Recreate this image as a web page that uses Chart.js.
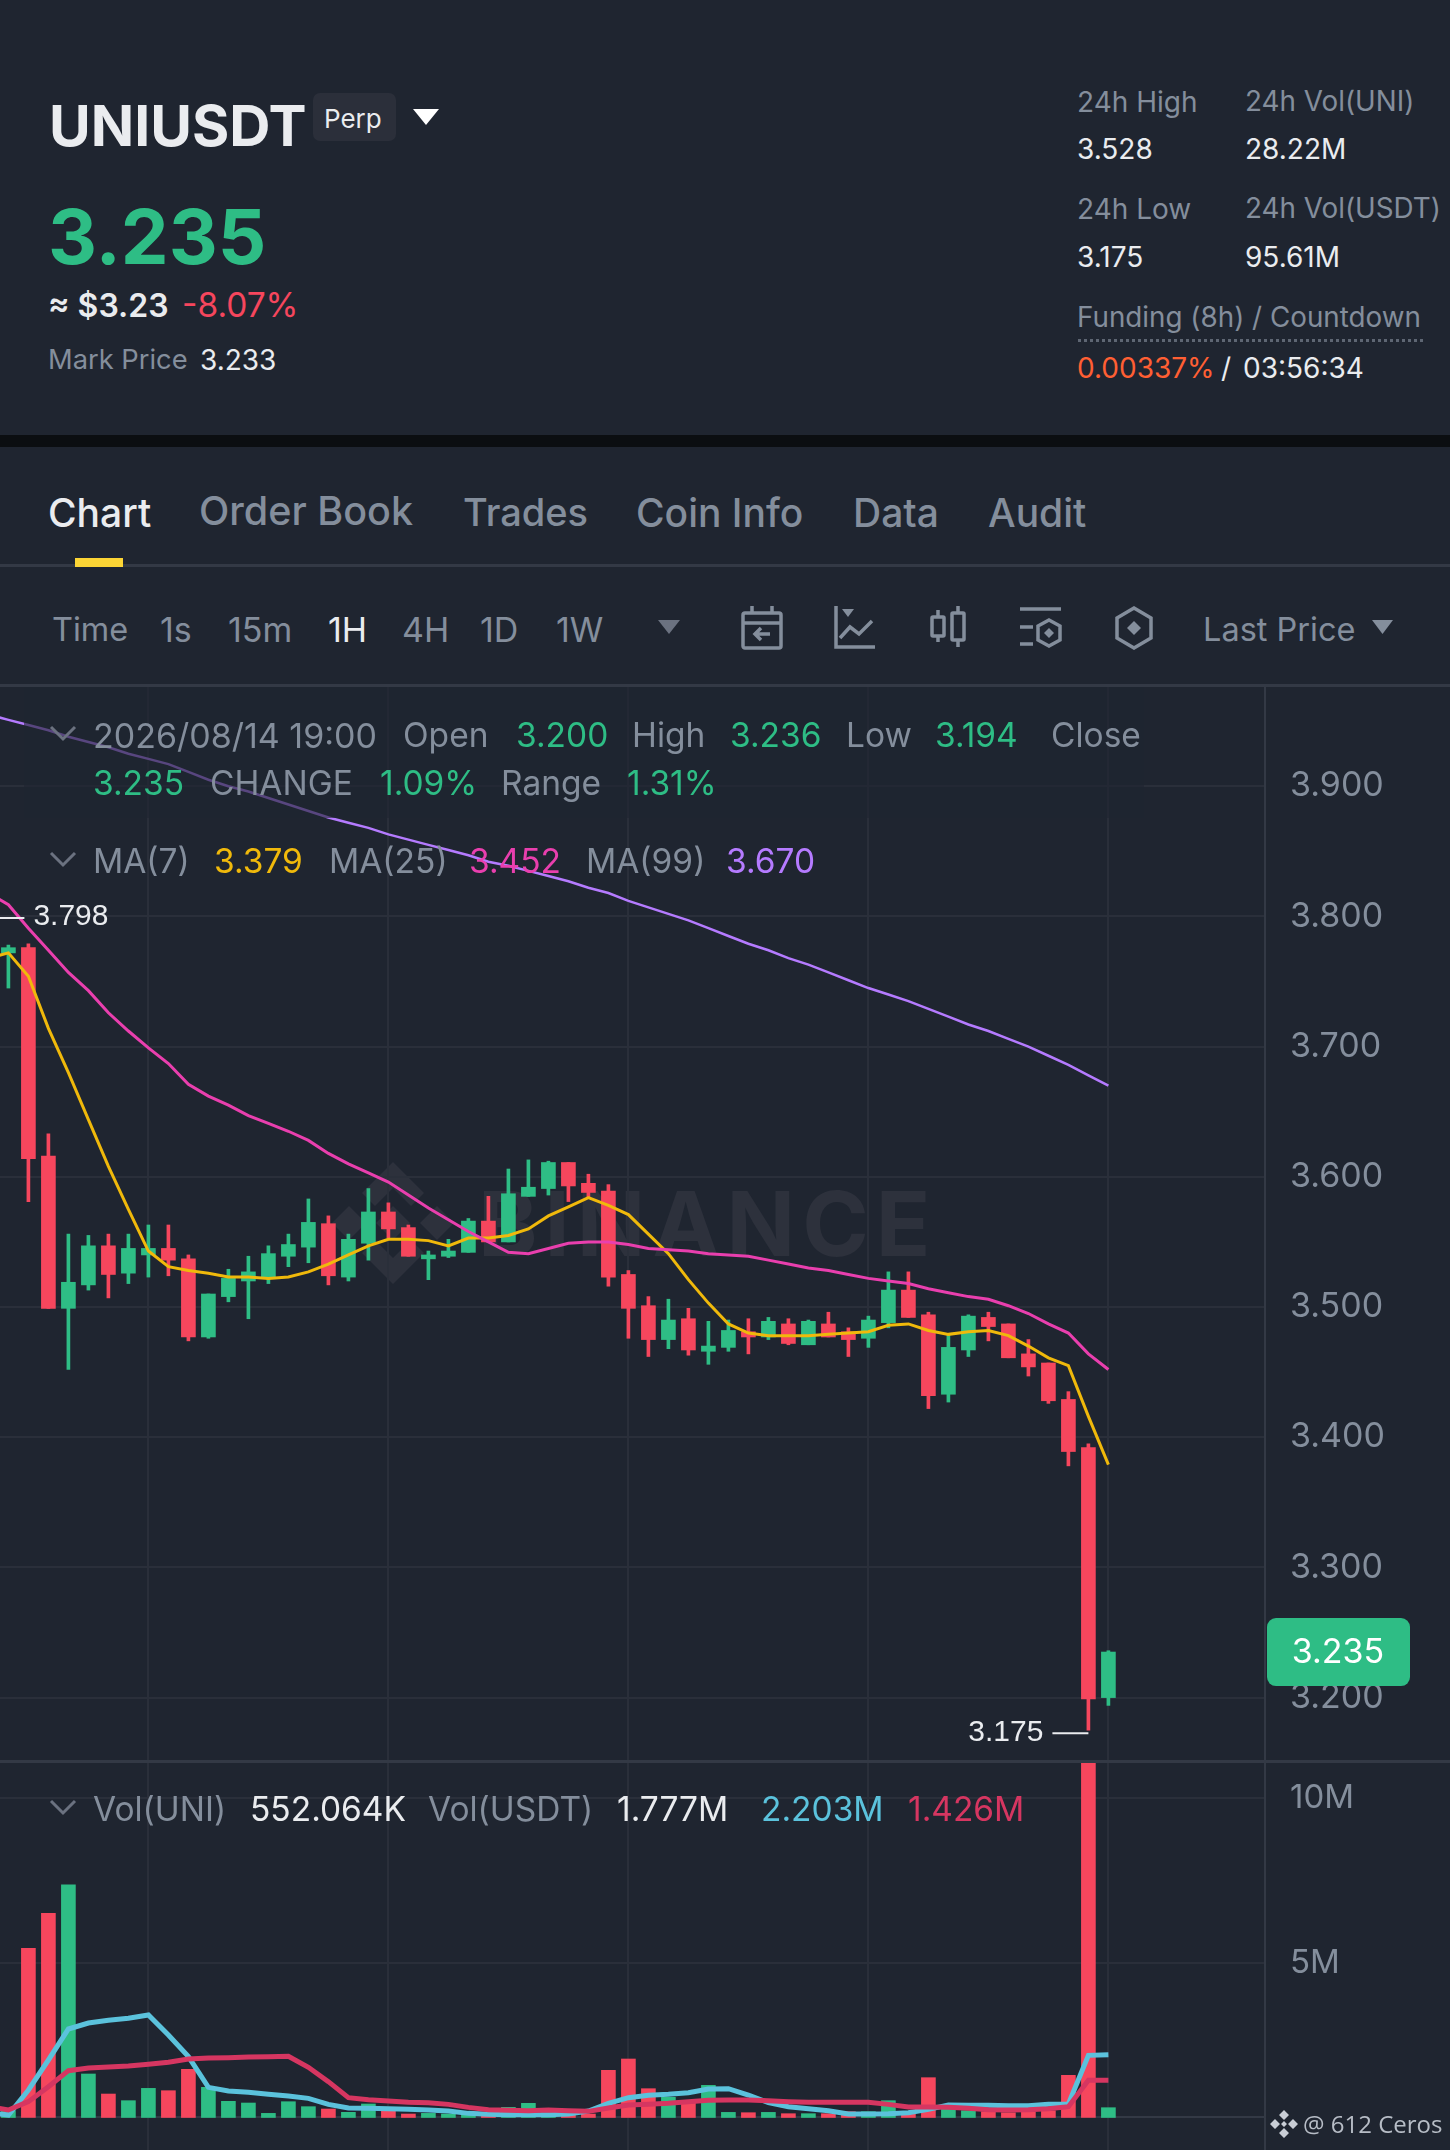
<!DOCTYPE html>
<html>
<head>
<meta charset="utf-8">
<title>UNIUSDT Perp</title>
<script src="https://cdn.jsdelivr.net/npm/chart.js@4/dist/chart.umd.min.js"></script>
<style>
html, body { margin: 0; padding: 0; background: #1f2530; }
#page { position: relative; width: 1450px; height: 2150px; overflow: hidden; background: #1f2530; font-family: Inter, sans-serif; }
#page > * { position: absolute; }
.t { white-space: nowrap; transform: translateY(calc(-50% + 1px)); line-height: 1; }
canvas { left: 0; }
</style>
</head>
<body>
<div id="page">
  <!-- watermark sits under the chart canvas -->
  <svg style="left:332px;top:1162px" width="122" height="122" viewBox="0 0 122 122" fill="#2d313c">
    <path d="M61 0 L92 31 L79 44 L61 26 L43 44 L30 31 Z"/>
    <path d="M61 122 L92 91 L79 78 L61 96 L43 78 L30 91 Z"/>
    <path d="M17 44 L34 61 L17 78 L0 61 Z"/>
    <path d="M105 44 L122 61 L105 78 L88 61 Z"/>
    <path d="M61 44 L78 61 L61 78 L44 61 Z"/>
  </svg>
  <div class="t" style="left:478px;top:1223px;font-size:90px;font-weight:700;color:#2d313c;letter-spacing:7px">BINANCE</div>

  <canvas id="priceChart" style="top:686px" width="1450" height="1075"></canvas>
  <canvas id="volumeChart" style="top:1762px" width="1450" height="388"></canvas>

  <!-- translucent box behind the OHLC rows, it dims the grid and MA(99) -->
  <div style="left:24px;top:686px;width:1120px;height:132px;background:rgba(31,37,48,.62)"></div>

  <div style="left:0;top:435px;width:1450px;height:12px;background:#0b0e11"></div>
  <div style="left:0;top:564px;width:1450px;height:3px;background:#333945"></div>
  <div style="left:0;top:684px;width:1450px;height:3px;background:#333945"></div>
  <div style="left:0;top:1760px;width:1450px;height:3px;background:#333945"></div>
  <div style="left:75px;top:558px;width:48px;height:9px;background:#fcd535"></div>
  <div style="left:313px;top:93px;width:83px;height:48px;background:#2b2f3a;border-radius:7px"></div>
  <div style="left:1078px;top:339px;width:345px;border-top:3px dotted #5e6673"></div>

  <svg style="left:741px;top:606px" width="42" height="44" viewBox="0 0 42 44" fill="none" stroke="#848e9c" stroke-width="3.5">
    <rect x="2" y="7" width="38" height="35" rx="2"/><path d="M2 17 H40 M11 0 V7 M31 0 V7 M29 28 H14 M20 22 L14 28 L20 34"/>
  </svg>
  <svg style="left:834px;top:606px" width="42" height="44" viewBox="0 0 42 44" fill="none" stroke="#848e9c" stroke-width="3.5">
    <path d="M2 0 V41 H41 M6 32 L16 21 L25 28 L38 15"/><path d="M8 3 H20 L14 11 Z" fill="#848e9c" stroke="none"/>
  </svg>
  <svg style="left:930px;top:606px" width="36" height="44" viewBox="0 0 36 44" fill="none" stroke="#848e9c" stroke-width="3.5">
    <rect x="2" y="11" width="12" height="19" rx="1"/><rect x="22" y="7" width="12" height="27" rx="1"/><path d="M8 4 V11 M8 30 V36 M28 0 V7 M28 34 V41"/>
  </svg>
  <svg style="left:1020px;top:606px" width="42" height="44" viewBox="0 0 42 44" fill="none" stroke="#848e9c" stroke-width="3.5">
    <path d="M0 3 H41 M0 21 H13 M0 38 H13 M29 14 L40 20 V34 L29 40 L18 34 V20 Z"/><path d="M29 22 L34 27 L29 32 L24 27 Z" fill="#848e9c" stroke="none"/>
  </svg>
  <svg style="left:1115px;top:606px" width="38" height="44" viewBox="0 0 38 44" fill="none" stroke="#848e9c" stroke-width="3.5">
    <path d="M19 2 L36 12 V32 L19 42 L2 32 V12 Z"/><path d="M19 15 L26 22 L19 29 L12 22 Z" fill="#848e9c" stroke="none"/>
  </svg>
  <svg style="left:1270px;top:2110px" width="28" height="28" viewBox="0 0 28 28" fill="#c9ced6">
    <path d="M14 0 L19 5 L14 10 L9 5 Z M14 18 L19 23 L14 28 L9 23 Z M5 9 L10 14 L5 19 L0 14 Z M23 9 L28 14 L23 19 L18 14 Z M14 11 L17 14 L14 17 L11 14 Z"/>
  </svg>
</div>

<script>
// candles
const opens  = [3.772,3.776,3.616,3.499,3.517,3.547,3.526,3.540,3.545,3.537,3.477,3.508,3.520,3.523,3.539,3.546,3.564,3.523,3.549,3.573,3.561,3.537,3.539,3.542,3.566,3.550,3.585,3.591,3.611,3.595,3.589,3.525,3.501,3.475,3.491,3.466,3.469,3.481,3.477,3.487,3.471,3.487,3.481,3.476,3.488,3.513,3.494,3.433,3.467,3.492,3.487,3.464,3.457,3.429,3.392,3.200];
const closes = [3.776,3.614,3.499,3.519,3.547,3.525,3.545,3.545,3.536,3.477,3.510,3.522,3.527,3.541,3.548,3.565,3.524,3.552,3.573,3.560,3.539,3.540,3.543,3.566,3.550,3.587,3.592,3.611,3.593,3.588,3.523,3.499,3.475,3.490,3.467,3.470,3.482,3.477,3.489,3.472,3.489,3.477,3.475,3.490,3.513,3.492,3.432,3.469,3.493,3.485,3.461,3.454,3.428,3.389,3.199,3.235];
const highs  = [3.778,3.779,3.633,3.556,3.555,3.556,3.556,3.563,3.563,3.540,3.510,3.529,3.539,3.547,3.556,3.583,3.570,3.556,3.591,3.580,3.563,3.543,3.552,3.568,3.585,3.606,3.613,3.612,3.611,3.602,3.594,3.528,3.508,3.506,3.499,3.489,3.490,3.491,3.492,3.491,3.490,3.496,3.484,3.493,3.527,3.527,3.496,3.479,3.494,3.496,3.487,3.475,3.457,3.435,3.395,3.236];
const lows   = [3.745,3.581,3.499,3.452,3.513,3.507,3.518,3.523,3.524,3.474,3.476,3.504,3.491,3.518,3.531,3.534,3.517,3.520,3.536,3.553,3.539,3.521,3.538,3.542,3.550,3.550,3.585,3.586,3.581,3.584,3.516,3.476,3.462,3.468,3.463,3.456,3.466,3.464,3.475,3.471,3.471,3.477,3.462,3.469,3.484,3.492,3.422,3.427,3.462,3.474,3.461,3.447,3.426,3.378,3.175,3.194];

// moving averages start one candle left of the picture, index -1
const ma7  = [3.768,3.772,3.754,3.714,3.680,3.644,3.608,3.575,3.543,3.531,3.528,3.526,3.523,3.523,3.522,3.523,3.527,3.533,3.540,3.547,3.552,3.552,3.551,3.547,3.553,3.553,3.555,3.560,3.570,3.577,3.584,3.578,3.571,3.556,3.541,3.521,3.503,3.487,3.480,3.478,3.478,3.478,3.479,3.480,3.481,3.486,3.487,3.482,3.479,3.481,3.482,3.478,3.470,3.461,3.455,3.416,3.379];
const ma25 = [3.818,3.809,3.791,3.774,3.757,3.743,3.726,3.712,3.699,3.687,3.671,3.662,3.655,3.647,3.641,3.635,3.628,3.618,3.610,3.603,3.596,3.586,3.576,3.567,3.558,3.550,3.542,3.541,3.545,3.549,3.550,3.550,3.548,3.545,3.544,3.543,3.541,3.540,3.539,3.536,3.533,3.530,3.528,3.525,3.522,3.520,3.518,3.514,3.511,3.508,3.506,3.501,3.495,3.487,3.480,3.464,3.452];
const ma99 = [3.955,3.951,3.947,3.943,3.938,3.934,3.930,3.925,3.921,3.917,3.911,3.905,3.900,3.896,3.891,3.886,3.881,3.876,3.872,3.868,3.863,3.859,3.855,3.851,3.847,3.842,3.839,3.835,3.831,3.827,3.822,3.818,3.812,3.807,3.802,3.797,3.791,3.785,3.779,3.774,3.768,3.763,3.757,3.751,3.745,3.740,3.735,3.729,3.723,3.717,3.712,3.706,3.700,3.693,3.686,3.678,3.670];

// volume in millions
const volumes = [0.516,5.445,6.508,7.368,1.630,1.022,0.820,1.194,1.123,1.771,1.225,0.800,0.749,0.435,0.789,0.638,0.567,0.466,0.719,0.516,0.415,0.435,0.415,0.385,0.364,0.617,0.739,0.455,0.385,0.415,1.741,2.085,1.184,0.921,0.750,1.285,0.465,0.455,0.465,0.425,0.425,0.425,0.486,0.486,0.820,0.486,1.518,0.557,0.516,0.486,0.455,0.486,0.516,1.589,11.16,0.607];
const volBlue = [0.46,0.385,1.144,2.055,2.996,3.178,3.259,3.320,3.421,2.814,2.156,1.225,1.113,1.073,1.012,0.962,0.891,0.709,0.597,0.587,0.577,0.557,0.536,0.506,0.435,0.405,0.395,0.395,0.395,0.415,0.506,0.739,0.911,0.982,1.012,1.063,1.174,1.184,0.992,0.759,0.637,0.577,0.516,0.415,0.415,0.425,0.455,0.557,0.688,0.678,0.678,0.668,0.668,0.708,0.718,2.196,2.216];
const volRed  = [0.65,0.537,0.790,1.245,1.731,1.812,1.842,1.873,1.923,1.984,2.085,2.115,2.126,2.146,2.156,2.166,1.832,1.397,0.911,0.850,0.810,0.770,0.759,0.708,0.617,0.546,0.526,0.516,0.536,0.516,0.496,0.597,0.688,0.708,0.739,0.789,0.830,0.840,0.840,0.820,0.789,0.769,0.769,0.769,0.769,0.708,0.627,0.627,0.617,0.587,0.546,0.536,0.546,0.576,0.637,1.437,1.437];
const volBase = 0.31;

const priceTicks = [3.2,3.3,3.4,3.5,3.6,3.7,3.8,3.9];
const volumeTicks = [volBase,5,10];
const gridCandles = [7,19,31,43,55];
const lastPrice = 3.235;
const swingHigh = { index: -1, value: 3.798 };
const swingLow = { index: 54, value: 3.175 };

const GREEN = '#2ebd85', RED = '#f6465d', GREY = '#848e9c', WHITE = '#eaecef';
const GRID = '#2a2f3a', AXIS = '#333945';

// top bar + legends, everything positioned by hand to line up with the screenshot
const page = document.getElementById('page');
function text(x, y, str, color, size, weight) {
  const el = document.createElement('div');
  el.className = 't';
  el.textContent = str;
  el.style.cssText = `left:${x}px;top:${y}px;color:${color};font-size:${size}px;font-weight:${weight || 400}`;
  page.appendChild(el);
}
function tri(x, y, w, h, color) {
  page.insertAdjacentHTML('beforeend', `<svg style="left:${x}px;top:${y}px" width="${w}" height="${h}"><path d="M0 0 H${w} L${w/2} ${h} Z" fill="${color}"/></svg>`);
}
function chevron(y) {
  page.insertAdjacentHTML('beforeend', `<svg style="left:49px;top:${y-9}px" width="28" height="18"><path d="M2 3 L14 15 L26 3" fill="none" stroke="#6b7280" stroke-width="3"/></svg>`);
}

text(49, 124, 'UNIUSDT', WHITE, 57, 700);
text(324, 118, 'Perp', WHITE, 26);
tri(413, 109, 26, 16, '#fff');
text(48, 235, '3.235', GREEN, 76, 700);
text(48, 305, '≈ $3.23', WHITE, 32, 600);
text(182, 305, '-8.07%', RED, 33.5);
text(48, 359, 'Mark Price', GREY, 27.3);
text(200, 359, '3.233', WHITE, 28);

text(1077, 101, '24h High', GREY, 28);
text(1245, 101, '24h Vol(UNI)', GREY, 27.8);
text(1077, 148, '3.528', WHITE, 28);
text(1245, 148, '28.22M', WHITE, 28);
text(1077, 208, '24h Low', GREY, 28);
text(1245, 208, '24h Vol(USDT)', GREY, 27.8);
text(1077, 256, '3.175', WHITE, 28);
text(1245, 256, '95.61M', WHITE, 28);
text(1077, 317, 'Funding (8h) / Countdown', GREY, 27.8);
text(1077, 367, '0.00337%', '#ff5f33', 28);
text(1221, 367, '/', WHITE, 28);
text(1243, 367, '03:56:34', WHITE, 28);

text(48, 511, 'Chart', WHITE, 39, 500);
text(199, 511, 'Order Book', GREY, 39.5, 500);
text(463, 511, 'Trades', GREY, 38, 500);
text(636, 511, 'Coin Info', GREY, 39, 500);
text(853, 511, 'Data', GREY, 39, 500);
text(988, 511, 'Audit', GREY, 39, 500);

text(52, 629, 'Time', GREY, 32.5);
text(160, 629, '1s', GREY, 34);
text(228, 629, '15m', GREY, 34);
text(328, 629, '1H', WHITE, 34);
text(402, 629, '4H', GREY, 34);
text(480, 629, '1D', GREY, 34);
text(556, 629, '1W', GREY, 34);
tri(658, 620, 22, 14, '#6b7280');
text(1203, 629, 'Last Price', GREY, 32.5);
tri(1372, 620, 21, 14, GREY);

chevron(733);
text(93, 735, '2026/08/14 19:00', GREY, 34);
text(403, 735, 'Open', GREY, 33.5);
text(516, 735, '3.200', GREEN, 33.5);
text(632, 735, 'High', GREY, 33.5);
text(730, 735, '3.236', GREEN, 33.5);
text(846, 735, 'Low', GREY, 33.5);
text(935, 735, '3.194', GREEN, 33.5);
text(1051, 735, 'Close', GREY, 33.5);
text(93, 783, '3.235', GREEN, 33.5);
text(210, 783, 'CHANGE', GREY, 33.5);
text(380, 783, '1.09%', GREEN, 33.5);
text(501, 783, 'Range', GREY, 33.5);
text(627, 783, '1.31%', GREEN, 33.5);

chevron(859);
text(93, 861, 'MA(7)', GREY, 33.5);
text(214, 861, '3.379', '#f0b90b', 33.5);
text(329, 861, 'MA(25)', GREY, 33.5);
text(469, 861, '3.452', '#e93fae', 33.5);
text(586, 861, 'MA(99)', GREY, 33.5);
text(726, 861, '3.670', '#b57bff', 33.5);

chevron(1807);
text(93, 1809, 'Vol(UNI)', GREY, 33.5);
text(250, 1809, '552.064K', WHITE, 33.5);
text(428, 1809, 'Vol(USDT)', GREY, 33.5);
text(617, 1809, '1.777M', WHITE, 33.5);
text(761, 1809, '2.203M', '#5bc2dc', 33.5);
text(908, 1809, '1.426M', '#d63661', 33.5);

text(1303, 2123, '@ 612 Ceros', '#b7bdc6', 24);
page.lastChild.style.fontFamily = '"Open Sans"';

// shared x axis: candle index, one candle = 20px
const xAxis = {
  type: 'linear',
  offset: false,
  min: -0.42,
  max: 62.83,
  afterBuildTicks: s => { s.ticks = gridCandles.map(v => ({ value: v })); },
  ticks: { display: false },
  grid: { color: GRID, lineWidth: 2, drawTicks: false, offset: false },
  border: { display: false }
};
const rightAxis = {
  position: 'right',
  afterFit: s => { s.width = 185; s.paddingTop = 0; s.paddingBottom = 0; },
  border: { display: true, color: AXIS, width: 2 }
};
const isUp = i => closes[i] >= opens[i];
const upDown = i => isUp(i) ? GREEN : RED;
const candleColors = opens.map((v, i) => upDown(i));
const lineSet = (values, color, width) => ({
  type: 'line',
  data: values.map((v, i) => ({ x: i - 1, y: v })),
  borderColor: color,
  borderWidth: width,
  pointRadius: 0,
  tension: 0,
  order: 0
});

// last price tag and the swing high/low notes, placed through the scales
const notes = {
  id: 'notes',
  afterDraw(chart) {
    const { ctx, scales: { x, y } } = chart;
    ctx.save();
    ctx.font = '30px "Liberation Sans"';
    ctx.fillStyle = WHITE;
    ctx.strokeStyle = WHITE;
    ctx.lineWidth = 2;
    ctx.textBaseline = 'middle';
    const hx = x.getPixelForValue(swingHigh.index), hy = y.getPixelForValue(swingHigh.value) - 1;
    ctx.beginPath(); ctx.moveTo(hx, hy); ctx.lineTo(hx + 36, hy); ctx.stroke();
    ctx.textAlign = 'left';
    ctx.fillText(swingHigh.value.toFixed(3), hx + 45, hy - 1);
    const lx = x.getPixelForValue(swingLow.index), ly = y.getPixelForValue(swingLow.value) + 3;
    ctx.beginPath(); ctx.moveTo(lx - 36, ly); ctx.lineTo(lx, ly); ctx.stroke();
    ctx.textAlign = 'right';
    ctx.fillText(swingLow.value.toFixed(3), lx - 45, ly);

    const py = y.getPixelForValue(lastPrice);
    ctx.fillStyle = GREEN;
    ctx.beginPath();
    ctx.roundRect(x.right + 2, py - 34, 143, 68, 9);
    ctx.fill();
    ctx.fillStyle = '#fff';
    ctx.font = '34px Inter';
    ctx.textAlign = 'center';
    ctx.fillText(lastPrice.toFixed(3), x.right + 73, py + 1);
    ctx.restore();
  }
};

const baseOptions = {
  responsive: false,
  animation: false,
  layout: { padding: 0 },
  plugins: { legend: { display: false }, tooltip: { enabled: false } }
};

new Chart(document.getElementById('priceChart'), {
  data: {
    datasets: [
      lineSet(ma99, '#b57bff', 2.5),
      lineSet(ma25, '#e93fae', 3),
      lineSet(ma7, '#f0b90b', 3),
      {
        type: 'bar',
        data: opens.map((v, i) => ({ x: i, y: [v, closes[i]] })),
        backgroundColor: candleColors,
        barThickness: 14,
        grouped: false,
        order: 1
      },
      {
        type: 'bar',
        data: highs.map((v, i) => ({ x: i, y: [lows[i], v] })),
        backgroundColor: candleColors,
        barThickness: 3,
        grouped: false,
        order: 2
      }
    ]
  },
  options: {
    ...baseOptions,
    scales: {
      x: xAxis,
      y: {
        ...rightAxis,
        min: 3.1513,
        max: 3.977,
        afterBuildTicks: s => { s.ticks = priceTicks.map(v => ({ value: v })); },
        ticks: { color: GREY, padding: 25, font: { family: 'Inter', size: 34 }, callback: v => v.toFixed(3) },
        grid: { color: GRID, lineWidth: 2, drawTicks: false }
      }
    }
  },
  plugins: [notes]
});

new Chart(document.getElementById('volumeChart'), {
  data: {
    datasets: [
      lineSet(volRed, '#d63661', 5),
      lineSet(volBlue, '#5bc2dc', 5),
      {
        type: 'bar',
        data: volumes.map((v, i) => ({ x: i, y: [volBase, v] })),
        backgroundColor: candleColors,
        barThickness: 14,
        grouped: false,
        order: 1
      }
    ]
  },
  options: {
    ...baseOptions,
    scales: {
      x: xAxis,
      y: {
        ...rightAxis,
        min: -0.677,
        max: 11.10,
        afterBuildTicks: s => { s.ticks = volumeTicks.map(v => ({ value: v })); },
        ticks: { color: GREY, padding: 25, font: { family: 'Inter', size: 33 }, callback: v => v === volBase ? '' : v + 'M' },
        grid: { color: c => c.tick && c.tick.value === volBase ? AXIS : GRID, lineWidth: 2, drawTicks: false }
      }
    }
  }
});
</script>
</body>
</html>
